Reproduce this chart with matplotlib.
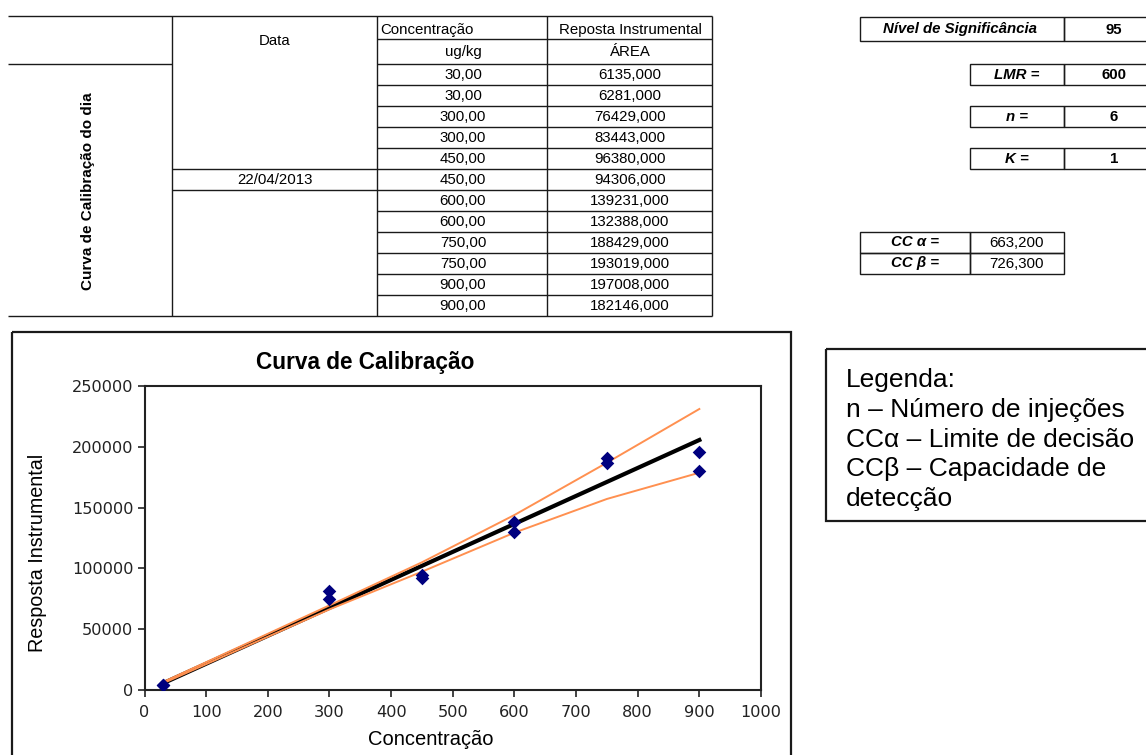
import matplotlib
matplotlib.use("Agg")
import matplotlib.pyplot as plt
from matplotlib.patches import Rectangle

plt.rcParams['font.family'] = ['Liberation Sans', 'DejaVu Sans']

# ---------------- data ----------------
table_conc = [30, 30, 300, 300, 450, 450, 600, 600, 750, 750, 900, 900]
table_area = [6135, 6281, 76429, 83443, 96380, 94306, 139231, 132388,
              188429, 193019, 197008, 182146]
table_date = "22/04/2013"

param_labels = ["LMR =", "n =", "K ="]
param_values = ["600", "6", "1"]
signif_label = "Nível de Significância"
signif_value = "95"
cc_labels = ["CC α =", "CC β ="]
cc_values = ["663,200", "726,300"]

legend_lines = ["Legenda:", "n – Número de injeções", "CCα – Limite de decisão",
                "CCβ – Capacidade de", "detecção"]

# points as plotted in the chart
pts_x = [30, 30, 300, 300, 450, 450, 600, 600, 750, 750, 900, 900]
pts_y = [3800, 4300, 74800, 81400, 92300, 94300, 129600, 138400,
         186400, 190500, 180300, 196000]
fit_x = [30, 900]
fit_y = [5500, 205600]
band_x = [30, 300, 450, 600, 750, 900]
upper_y = [6500, 69600, 105000, 143900, 186900, 231100]
lower_y = [5500, 66300, 97300, 129400, 157100, 178700]

x_ticks = list(range(0, 1001, 100))
y_ticks = list(range(0, 250001, 50000))

# ---------------- figure ----------------
W, H = 1146, 755
fig = plt.figure(figsize=(W / 100, H / 100), dpi=100)
bg = fig.add_axes([0, 0, 1, 1])
bg.set_xlim(0, W)
bg.set_ylim(H, 0)
bg.axis('off')

LC = '#1a1a1a'
LW = 1.0


def hline(y, x0, x1, lw=LW, c=LC):
    bg.plot([x0, x1], [y, y], color=c, lw=lw, solid_capstyle='butt')


def vline(x, y0, y1, lw=LW, c=LC):
    bg.plot([x, x], [y0, y1], color=c, lw=lw, solid_capstyle='butt')


# ---- main table ----
cols = [8, 172, 377, 547, 712]
row_top = 64
row_h = 21
n_rows = len(table_conc)
row_ys = [row_top + i * row_h for i in range(n_rows + 1)]
bottom = row_ys[-1]

hline(16, cols[0], cols[4])
hline(39, cols[2], cols[4])
hline(64, cols[0], cols[1])
for i, y in enumerate(row_ys[:-1]):
    hline(y, cols[2], cols[4])
date_row = 5
hline(row_ys[date_row], cols[1], cols[2])
hline(row_ys[date_row + 1], cols[1], cols[2])
hline(bottom, cols[0], cols[4])
for x in cols[1:]:
    vline(x, 16, bottom)

tfs = 10.8
bg.text(275, 41, "Data", ha='center', va='center', fontsize=tfs)
bg.text(380, 30, "Concentração", ha='left', va='center', fontsize=tfs)
bg.text(630, 30, "Reposta Instrumental", ha='center', va='center', fontsize=tfs)
bg.text(463, 52, "ug/kg", ha='center', va='center', fontsize=tfs)
bg.text(630, 52, "ÁREA", ha='center', va='center', fontsize=tfs)
for i, (c, a) in enumerate(zip(table_conc, table_area)):
    yc = row_ys[i] + row_h / 2 + 0.5
    bg.text(463, yc, f"{c:.2f}".replace('.', ','), ha='center', va='center', fontsize=tfs)
    bg.text(630, yc, f"{a:.3f}".replace('.', ','), ha='center', va='center', fontsize=tfs)
bg.text(275, row_ys[date_row] + row_h / 2 + 0.5, table_date, ha='center', va='center', fontsize=tfs)
bg.text(88, 191, "Curva de Calibração do dia", rotation=90, ha='center', va='center',
        fontsize=11, fontweight='bold')


# ---- parameter boxes ----
def box(x0, x1, y0, y1, lw=1.0):
    bg.add_patch(Rectangle((x0, y0), x1 - x0, y1 - y0, fill=False, edgecolor=LC, lw=lw))


box(860, 1064, 17, 41)
box(1064, 1150, 17, 41)
bg.text(960, 29.5, signif_label, ha='center', va='center', fontsize=10.8,
        fontweight='bold', fontstyle='italic')
bg.text(1114, 29.5, signif_value, ha='center', va='center', fontsize=10.8, fontweight='bold')

for k, (lab, val) in enumerate(zip(param_labels, param_values)):
    y0 = 64 + k * 42
    box(970, 1064, y0, y0 + 21)
    box(1064, 1150, y0, y0 + 21)
    bg.text(1017, y0 + 11, lab, ha='center', va='center', fontsize=10.8,
            fontweight='bold', fontstyle='italic')
    bg.text(1114, y0 + 11, val, ha='center', va='center', fontsize=10.8, fontweight='bold')

for k, (lab, val) in enumerate(zip(cc_labels, cc_values)):
    y0 = 232 + k * 21
    box(860, 970, y0, y0 + 21)
    box(970, 1064, y0, y0 + 21)
    bg.text(915, y0 + 10.5, lab, ha='center', va='center', fontsize=10.8,
            fontweight='bold', fontstyle='italic')
    bg.text(1017, y0 + 11, val, ha='center', va='center', fontsize=10.8)

# ---- chart frame & legend box ----
box(12, 791, 332, 770, lw=1.6)
box(826, 1150, 349, 521, lw=1.6)
for i, line in enumerate(legend_lines):
    bg.text(846, 380 + i * 29.8, line, ha='left', va='center', fontsize=19)

# ---------------- chart ----------------
ax_l, ax_r, ax_t, ax_b = 144.5, 761.0, 386.0, 690.0
ax = fig.add_axes([ax_l / W, (H - ax_b) / H, (ax_r - ax_l) / W, (ax_b - ax_t) / H])
ax.set_xlim(0, 1000)
ax.set_ylim(0, 250000)
ax.set_xticks(x_ticks)
ax.set_yticks(y_ticks)
ax.set_xticklabels([str(v) for v in x_ticks], family='DejaVu Sans', fontsize=11.6,
                   color='#222')
ax.set_yticklabels([str(v) for v in y_ticks], family='DejaVu Sans', fontsize=11.6,
                   color='#222')
ax.tick_params(direction='out', length=5, width=1.2, colors='#222', pad=3)
ax.tick_params(axis='x', pad=6)
for s in ax.spines.values():
    s.set_linewidth(1.5)
    s.set_color('#222')

ax.plot(fit_x, fit_y, color='black', lw=3.0, zorder=2)
ax.plot(band_x, upper_y, color='#FF9050', lw=1.4, zorder=3)
ax.plot(band_x, lower_y, color='#FF9050', lw=1.4, zorder=3)
ax.scatter(pts_x, pts_y, marker='D', s=48, color='#00007F', zorder=4, linewidths=0)

ax.set_title("Curva de Calibração", fontsize=16.3, fontweight='bold',
             x=(365 - ax_l) / (ax_r - ax_l), pad=12)
ax.set_xlabel("Concentração", fontsize=14.5)
ax.set_ylabel("Resposta Instrumental", fontsize=14.2, va='center')
ax.xaxis.set_label_coords((431 - ax_l) / (ax_r - ax_l), (ax_b - 730) / (ax_b - ax_t))
ax.yaxis.set_label_coords((38 - ax_l) / (ax_r - ax_l), (ax_b - 553) / (ax_b - ax_t))

fig.savefig("out.png", dpi=100)
